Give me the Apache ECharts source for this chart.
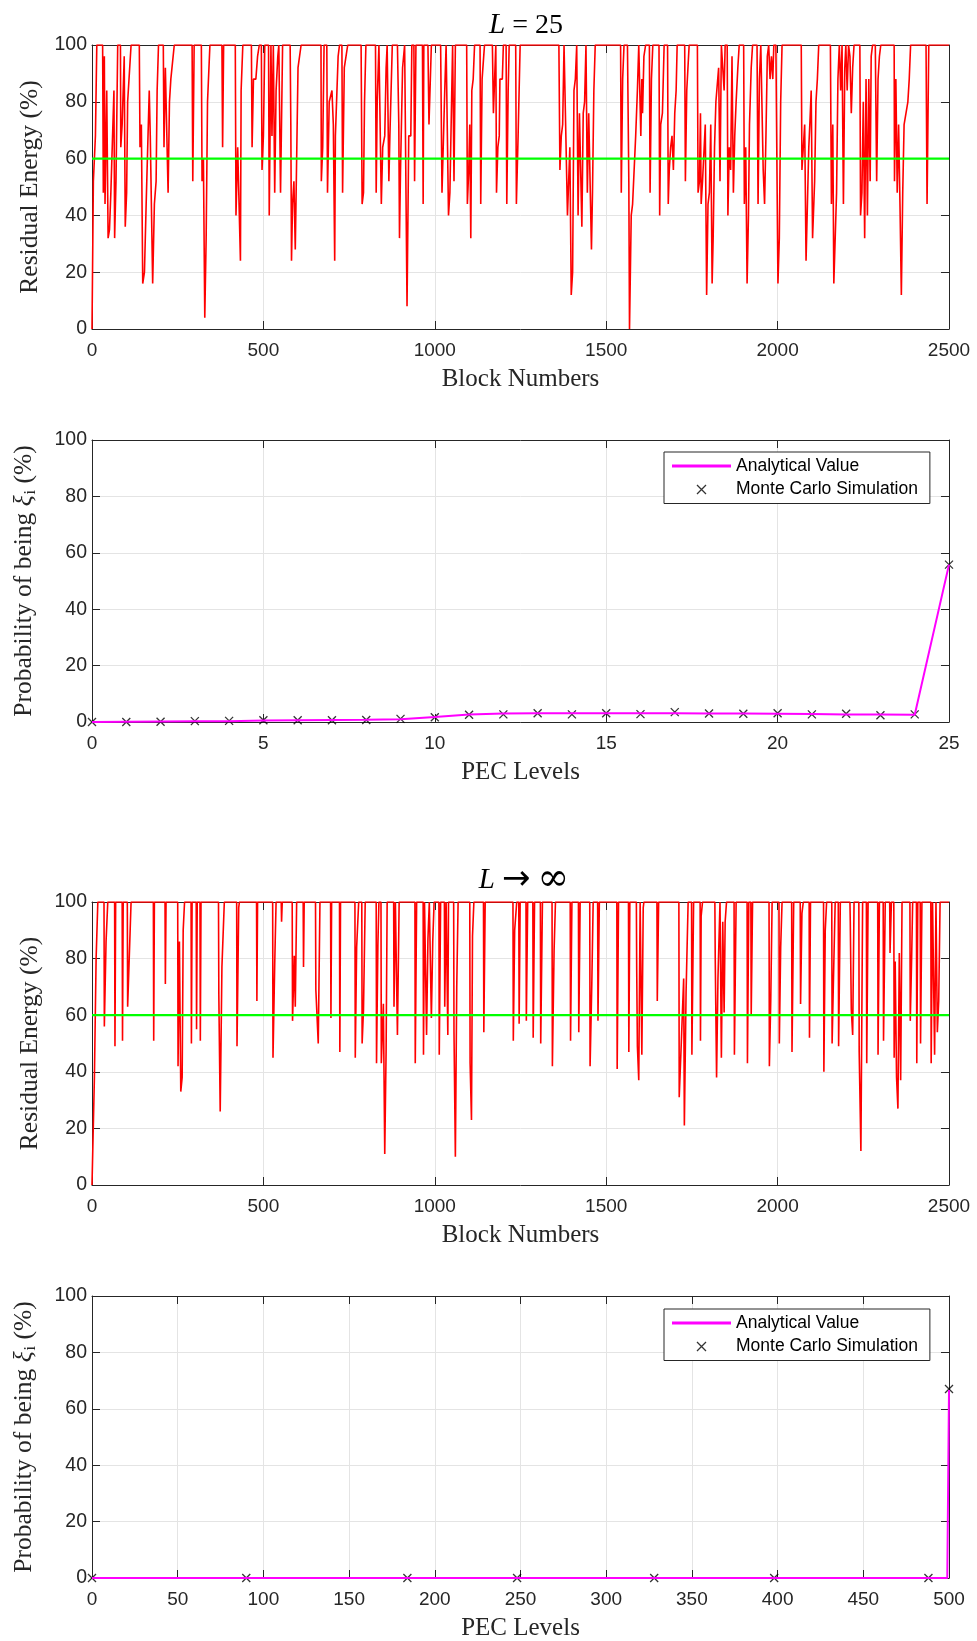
<!DOCTYPE html>
<html><head><meta charset="utf-8">
<script src="https://cdn.jsdelivr.net/npm/echarts@6/dist/echarts.min.js"></script>
<style>html,body{margin:0;padding:0;background:#fff}#c{width:977px;height:1641px}</style>
</head><body><div id="c"></div>
<script>
// ---------- DATA ----------
const blockTicksMax = 2500;
const threshold = 60;
// Residual energy, L = 25  ([block, %])
const residualL25 = [[0,0],[4,52],[10,68],[14,100],[31,100],[33,48],[36,96],[38,44],[43,84],[47,32],[51,35],[55,48],[60,68],[64,84],[66,32],[70,52],[75,100],[83,100],[84,64],[88,72],[94,96],[97,36],[101,48],[104,80],[109,80],[114,100],[138,100],[140,64],[144,72],[148,16],[153,20],[158,44],[163,44],[167,84],[170,68],[174,68],[177,16],[182,44],[187,52],[190,84],[194,100],[208,100],[210,64],[214,92],[218,92],[222,48],[226,80],[230,88],[235,88],[240,100],[292,100],[294,52],[298,100],[319,100],[321,52],[325,60],[329,4],[333,32],[337,80],[344,100],[379,100],[381,64],[384,100],[418,100],[420,40],[425,64],[430,64],[433,24],[435,84],[440,100],[465,100],[467,64],[471,88],[478,88],[483,96],[488,100],[494,100],[496,56],[500,68],[504,100],[515,100],[517,40],[522,100],[525,68],[529,100],[533,48],[537,84],[542,96],[545,100],[548,100],[550,48],[556,100],[578,100],[580,72],[582,24],[585,44],[589,52],[593,28],[597,60],[601,92],[605,92],[610,100],[668,100],[669,52],[673,64],[677,100],[685,100],[687,48],[692,80],[696,80],[700,84],[704,72],[708,24],[710,68],[714,68],[718,96],[722,100],[729,100],[731,48],[736,92],[741,96],[746,100],[785,100],[788,44],[792,48],[795,80],[799,100],[827,100],[829,48],
[832,80],[837,100],[840,100],[844,44],[848,64],[854,68],[858,92],[861,100],[866,52],[869,68],[873,68],[876,100],[891,100],[895,72],[897,32],[900,56],[906,92],[912,100],[916,100],[919,8],[924,68],[930,68],[933,100],[939,100],[941,52],[945,100],[964,100],[966,44],[968,100],[980,100],[983,72],[986,84],[990,100],[1017,100],[1021,48],[1025,48],[1029,84],[1033,100],[1037,100],[1040,40],[1044,48],[1048,48],[1052,100],[1056,52],[1060,100],[1093,100],[1095,44],[1099,56],[1102,72],[1105,32],[1108,84],[1112,88],[1116,100],[1132,100],[1134,44],[1138,88],[1142,88],[1145,100],[1168,100],[1171,76],[1175,76],[1178,100],[1180,48],[1184,64],[1188,68],[1190,88],[1197,88],[1200,100],[1208,100],[1210,44],[1214,84],[1217,100],[1236,100],[1238,44],[1243,68],[1249,100],[1362,100],[1365,56],[1369,68],[1373,72],[1377,100],[1382,100],[1387,40],[1391,40],[1394,64],[1398,12],[1402,20],[1406,84],[1410,88],[1414,100],[1418,40],[1422,76],[1425,76],[1429,36],[1433,76],[1437,80],[1441,100],[1445,48],[1449,76],[1453,76],[1457,28],[1460,48],[1464,84],[1468,100],[1542,100],[1544,48],[1548,88],[1552,100],[1562,100],[1566,52],[1568,0],[1573,40],[1577,44],[1581,44],[1586,68],[1591,84],[1595,100],[1599,100],[1601,68],[1604,88],[1606,76],[1610,96],[1615,100],[1626,100],[1628,48],[1632,88],[1636,100],[1654,100],[1656,40],[1659,72],[1664,76],[1669,100],
[1679,100],[1681,44],[1684,56],[1688,64],[1692,68],[1696,56],[1700,76],[1704,84],[1707,100],[1729,100],[1731,52],[1735,84],[1739,84],[1742,100],[1766,100],[1768,48],[1772,52],[1775,76],[1777,44],[1781,52],[1785,52],[1789,72],[1793,12],[1797,44],[1801,48],[1805,72],[1809,16],[1812,32],[1816,64],[1820,80],[1824,80],[1828,92],[1832,52],[1836,100],[1840,100],[1844,84],[1847,100],[1853,100],[1855,40],[1859,64],[1863,56],[1867,96],[1871,48],[1875,68],[1879,80],[1884,92],[1888,100],[1901,100],[1903,44],[1907,64],[1911,16],[1915,40],[1918,72],[1923,92],[1927,100],[1940,100],[1943,44],[1947,88],[1951,100],[1954,100],[1958,56],[1962,44],[1966,68],[1970,96],[1974,100],[1978,88],[1982,96],[1986,88],[1989,100],[1995,100],[2001,16],[2005,32],[2009,80],[2013,100],[2069,100],[2071,56],[2075,64],[2079,72],[2083,24],[2087,44],[2091,64],[2094,72],[2098,84],[2102,32],[2108,52],[2112,80],[2116,88],[2120,100],[2154,100],[2157,44],[2161,72],[2164,16],[2168,32],[2172,48],[2176,88],[2180,100],[2184,84],[2188,100],[2192,44],[2196,92],[2199,100],[2203,84],[2207,100],[2211,96],[2215,76],[2219,92],[2223,100],[2240,100],[2242,40],[2246,48],[2250,80],[2254,32],[2258,88],[2262,40],[2266,88],[2270,52],[2273,96],[2277,100],[2285,100],[2289,52],[2293,88],[2297,96],[2301,100],[2340,100],[2341,52],[2345,88],[2349,48],[2353,72],[2357,44],[2361,12],[2365,48],[2369,72],[2373,72],[2380,80],[2384,88],[2388,100],[2433,100],[2436,44],[2441,100],[2500,100]];

// Residual energy, L -> infinity ([block, %])
const residualLinf = [[0,0],[7,38],[12,80],[17,100],[35,100],[36,56],[41,86],[46,100],[66,100],[67,49],[69,100],[88,100],[89,51],[91,100],[103,100],[104,63],[109,63],[114,100],[179,100],[180,51],[182,100],[213,100],[214,71],[216,100],[250,100],[251,42],[255,86],[259,33],[263,38],[266,90],[270,100],[289,100],[290,50],[292,100],[304,100],[305,55],[307,100],[315,100],[316,51],[318,100],[369,100],[370,67],[374,26],[379,77],[386,100],[422,100],[423,49],[428,98],[430,100],[480,100],[481,65],[483,100],[527,100],[528,45],[533,78],[537,100],[552,100],[553,93],[555,100],[584,100],[585,58],[590,81],[593,63],[597,100],[616,100],[617,77],[619,100],[652,100],[653,69],[660,50],[665,100],[696,100],[697,59],[699,100],[722,100],[723,47],[725,100],[767,100],[768,45],[772,84],[778,100],[787,100],[788,50],[792,62],[797,100],
[829,100],[830,43],[834,85],[837,100],[843,100],[844,43],[850,64],[854,11],[858,48],[861,100],[880,100],[881,63],[885,100],[890,100],[891,53],[896,100],[942,100],[943,43],[947,100],[966,100],[967,46],[970,100],[975,100],[976,53],[980,87],[984,100],[989,100],[990,59],[994,86],[998,100],[1012,100],[1013,46],[1017,100],[1028,100],[1029,63],[1033,100],[1037,100],[1038,53],[1040,100],[1055,100],[1056,54],[1060,10],[1064,70],[1068,100],[1102,100],[1103,43],[1107,23],[1110,88],[1114,100],[1142,100],[1143,54],[1147,100],[1228,100],[1229,51],[1233,90],[1239,100],[1245,100],[1246,57],[1249,100],[1266,100],[1267,58],[1271,100],[1286,100],[1287,52],[1291,100],[1308,100],[1309,50],[1314,100],[1342,100],[1343,42],[1348,83],[1352,100],[1395,100],[1396,51],[1400,100],[1419,100],[1420,54],[1424,100],[1452,100],[1453,42],[1458,71],[1462,100],[1475,100],[1476,58],[1480,100],[1531,100],[1532,41],[1536,100],[1565,100],[1566,47],[1569,100],[1588,100],[1589,76],[1591,49],[1595,37],[1599,100],[1603,100],[1604,46],[1608,98],[1610,100],[1648,100],[1649,65],[1653,100],
[1712,100],[1713,31],[1719,50],[1726,73],[1728,21],[1733,68],[1739,100],[1749,100],[1750,46],[1755,100],[1774,100],[1775,51],[1777,95],[1781,100],[1817,100],[1818,81],[1822,38],[1826,73],[1832,100],[1835,100],[1836,45],[1840,93],[1844,61],[1847,93],[1851,100],[1873,100],[1874,46],[1879,100],[1911,100],[1912,43],[1916,100],[1922,100],[1923,60],[1927,100],[1975,100],[1976,42],[1980,65],[1984,100],[2004,100],[2005,50],[2009,84],[2013,100],[2041,100],[2042,47],[2047,100],[2066,100],[2067,64],[2071,96],[2075,100],[2092,100],[2093,52],[2096,100],[2134,100],[2135,40],[2139,90],[2143,100],[2158,100],[2159,50],[2163,73],[2168,100],[2177,100],[2178,49],[2183,100],[2211,100],[2212,93],[2215,62],[2219,53],[2223,100],[2237,100],[2238,47],[2243,12],[2248,100],[2259,100],[2260,43],[2264,100],[2292,100],[2293,46],[2297,100],[2308,100],[2309,51],[2314,100],[2327,100],[2328,82],[2332,100],[2339,100],[2340,45],[2343,79],[2347,38],[2351,27],[2355,82],[2359,37],[2363,100],[2386,100],[2387,58],[2391,80],[2394,100],[2405,100],[2406,43],[2409,100],[2416,100],[2417,50],[2421,100],[2447,100],[2448,43],[2452,100],[2457,100],[2458,46],[2462,100],[2465,100],[2466,54],[2470,65],[2474,100],[2500,100]];

// PEC level distribution, L = 25
const pecLevels25 = [0,1,2,3,4,5,6,7,8,9,10,11,12,13,14,15,16,17,18,19,20,21,22,23,24,25];
const analytical25 = [0,0.1,0.2,0.3,0.3,0.5,0.6,0.7,0.8,1.0,1.8,2.7,3.0,3.1,3.1,3.1,3.1,3.1,3.0,3.0,2.9,2.8,2.7,2.7,2.6,55.8];
const monteCarlo25 = [0,0,0.1,0.3,0.4,0.6,0.6,0.6,0.7,1.1,1.7,2.6,2.7,3.1,2.7,3.1,2.8,3.5,3.0,2.9,3.1,2.7,2.9,2.4,2.7,55.8];

// PEC level distribution, L -> infinity
const analyticalInfLevels = [0,499,500];
const analyticalInf = [0,0,66.7];
const monteCarloInfLevels = [0,90,184,248,328,398,488,500];
const monteCarloInf = [0,0,0,0,0,0,0,67];

const yTicksMax = 100;

// ---------- CHART ----------
const dark = '#262626';
const gridColor = '#e4e4e4';
const grids = [
  {left:92, top:45, width:857, height:284},
  {left:92, top:440, width:857, height:282},
  {left:92, top:902, width:857, height:283},
  {left:92, top:1296, width:857, height:282}
];
const xSpecs = [
  {max:2500, interval:500, name:'Block Numbers'},
  {max:25, interval:5, name:'PEC Levels'},
  {max:2500, interval:500, name:'Block Numbers'},
  {max:500, interval:50, name:'PEC Levels'}
];
const serif = 'Liberation Serif, DejaVu Serif, serif';
const sans = 'Liberation Sans, Arial, sans-serif';

const xAxis = [], yAxis = [];
const tick = {show:true, inside:true, length:8, lineStyle:{color:dark, width:1}};
const line = {show:true, onZero:false, lineStyle:{color:dark, width:1}};
const plain = v => String(v);
grids.forEach((g, i) => {
  const s = xSpecs[i];
  xAxis.push({type:'value', gridIndex:i, position:'bottom', min:0, max:s.max, interval:s.interval,
    axisLine:line, axisTick:tick,
    axisLabel:{color:dark, fontFamily:sans, fontSize:19, margin:12, showMinLabel:true, showMaxLabel:true, formatter:plain},
    splitLine:{show:true, lineStyle:{color:gridColor, width:1}},
    name:s.name, nameLocation:'middle', nameGap:38,
    nameTextStyle:{fontFamily:serif, fontSize:25, color:dark}});
  xAxis.push({type:'value', gridIndex:i, position:'top', min:0, max:s.max, interval:s.interval,
    axisLine:line, axisTick:tick, axisLabel:{show:false}, splitLine:{show:false}});
  const prob = (i % 2 === 1);
  yAxis.push({type:'value', gridIndex:i, position:'left', min:0, max:yTicksMax, interval:20,
    axisLine:line, axisTick:tick,
    axisLabel:{color:dark, fontFamily:sans, fontSize:19.5, margin:5, formatter:plain},
    splitLine:{show:true, lineStyle:{color:gridColor, width:1}},
    name: prob ? 'Probability of being {xi|ξ}{sub|i} (%)' : 'Residual Energy (%)',
    nameLocation:'middle', nameGap: prob ? 53 : 38,
    nameTextStyle:{fontFamily:serif, fontSize:25.5, color:dark,
      rich:{xi:{fontFamily:serif, fontStyle:'italic', fontSize:25.5, color:dark},
            sub:{fontFamily:serif, fontSize:16, color:dark, padding:[14,0,0,1]}}}});
  yAxis.push({type:'value', gridIndex:i, position:'right', min:0, max:yTicksMax, interval:20,
    axisLine:line, axisTick:tick, axisLabel:{show:false}, splitLine:{show:false}});
});

const pair = (xs, ys) => xs.map((x, k) => [x, ys[k]]);
const crossPath = 'path://M0,0L10,10M10,0L0,10';
const linePath = 'path://M0,0L60,0L60,3L0,3Z';
const crossStyle = {color:'rgba(0,0,0,0)', borderColor:'#000', borderWidth:1.3};

const series = [
  {type:'line', xAxisIndex:0, yAxisIndex:0, data:residualL25, symbol:'none', lineStyle:{color:'#ff0000', width:1.6}, silent:true},
  {type:'line', xAxisIndex:0, yAxisIndex:0, data:[[0,threshold],[blockTicksMax,threshold]], symbol:'none', lineStyle:{color:'#00ff00', width:2.2}, silent:true},
  {type:'line', name:'Analytical Value', xAxisIndex:2, yAxisIndex:2, data:pair(pecLevels25, analytical25), symbol:'none', lineStyle:{color:'#ff00ff', width:2}, itemStyle:{color:'#ff00ff'}},
  {type:'scatter', name:'Monte Carlo Simulation', xAxisIndex:2, yAxisIndex:2, data:pair(pecLevels25, monteCarlo25), symbol:crossPath, symbolSize:8, itemStyle:crossStyle},
  {type:'line', xAxisIndex:4, yAxisIndex:4, data:residualLinf, symbol:'none', lineStyle:{color:'#ff0000', width:1.6}, silent:true},
  {type:'line', xAxisIndex:4, yAxisIndex:4, data:[[0,threshold],[blockTicksMax,threshold]], symbol:'none', lineStyle:{color:'#00ff00', width:2.2}, silent:true},
  {type:'line', name:'Analytical Value', xAxisIndex:6, yAxisIndex:6, data:pair(analyticalInfLevels, analyticalInf), symbol:'none', lineStyle:{color:'#ff00ff', width:2}, itemStyle:{color:'#ff00ff'}},
  {type:'scatter', name:'Monte Carlo Simulation', xAxisIndex:6, yAxisIndex:6, data:pair(monteCarloInfLevels, monteCarloInf), symbol:crossPath, symbolSize:8, itemStyle:crossStyle}
];

const legendBase = (top) => ({
  orient:'vertical', left:664, top:top, padding:[5,12,5,8], itemGap:5.5,
  itemWidth:59, itemHeight:9, borderColor:dark, borderWidth:1, backgroundColor:'#fff',
  textStyle:{fontFamily:sans, fontSize:17.5, color:'#000'},
  selectedMode:false,
  data:[{name:'Analytical Value', icon:linePath, itemStyle:{color:'#ff00ff', borderWidth:0}},
        {name:'Monte Carlo Simulation', icon:crossPath, itemStyle:crossStyle}]
});

const titleStyle = {fontFamily:serif, fontSize:28, fontWeight:'normal', color:'#000',
  rich:{it:{fontFamily:serif, fontStyle:'italic', fontSize:29, color:'#000'},
        ar:{fontFamily:'DejaVu Sans, sans-serif', fontSize:34, color:'#000'},
        inf:{fontFamily:'DejaVu Serif, serif', fontSize:38, color:'#000'}}};

const option = {
  animation:false,
  backgroundColor:'#fff',
  title:[
    {text:'{it|L} = 25', left:521, top:6, textAlign:'center', textStyle:titleStyle},
    {text:'{it|L} {ar|→} {inf|∞}', left:519, top:856, textAlign:'center', textStyle:titleStyle}
  ],
  legend:[legendBase(452), legendBase(1309)],
  grid:grids.map(g => Object.assign({show:false, outerBoundsMode:'none', containLabel:false}, g)),
  xAxis:xAxis, yAxis:yAxis, series:series
};
const chart = echarts.init(document.getElementById('c'), null, {renderer:'canvas', width:977, height:1641});
chart.setOption(option);
</script></body></html>
